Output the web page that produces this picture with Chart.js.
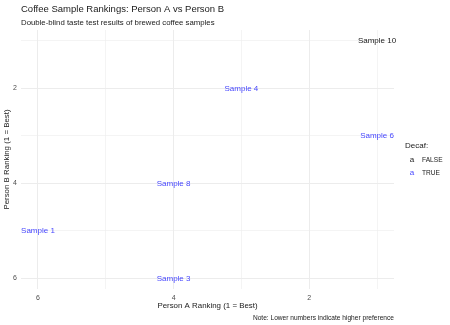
<!DOCTYPE html>
<html>
<head>
<meta charset="utf-8">
<script src="https://cdn.jsdelivr.net/npm/chart.js@4/dist/chart.umd.min.js"></script>
<style>
  html, body { margin: 0; padding: 0; background: #fff; }
  #wrap { width: 450px; height: 325px; position: relative; }
</style>
</head>
<body>
<div id="wrap"><canvas id="chart" width="450" height="325"></canvas></div>
<script>
// data
const samples = ['Sample 10', 'Sample 4', 'Sample 6', 'Sample 8', 'Sample 1', 'Sample 3'];
const personA = [1, 3, 1, 4, 6, 4];
const personB = [1, 2, 3, 4, 5, 6];
const decaf = [false, true, true, true, true, true];
const tickValues = [1, 2, 3, 4, 5, 6];
const tickLabels = ['', '2', '', '4', '', '6'];

const FONT = '"Liberation Sans", Arial, sans-serif';
const colFalse = '#1a1a1a';
const colTrue = 'rgba(0, 0, 255, 0.75)';

const points = samples.map((s, i) => ({ x: personA[i], y: personB[i], label: s, decaf: decaf[i] }));

function setTicks(scale) {
    scale.ticks = tickValues.map(v => ({ value: v }));
}

const gridOpts = {
    color: '#ececec',
    lineWidth: ctx => (ctx.tick && ctx.tick.value % 2 === 0) ? 1 : 0.6,
    drawTicks: false
};

// draws the sample names at the data positions + titles and legend
const textPlugin = {
    id: 'textPlugin',
    afterDatasetsDraw(chart) {
        const ctx = chart.ctx;
        const meta = chart.getDatasetMeta(0);
        ctx.save();
        ctx.font = '8px ' + FONT;
        ctx.textAlign = 'center';
        ctx.textBaseline = 'middle';
        meta.data.forEach((el, i) => {
            const p = points[i];
            ctx.fillStyle = p.decaf ? colTrue : colFalse;
            ctx.fillText(p.label, el.x, el.y);
        });
        ctx.restore();
    },
    afterDraw(chart) {
        const ctx = chart.ctx;
        const area = chart.chartArea;
        ctx.save();
        ctx.textBaseline = 'middle';

        // title + subtitle
        ctx.fillStyle = '#1a1a1a';
        ctx.textAlign = 'left';
        ctx.font = '9.5px ' + FONT;
        ctx.fillText('Coffee Sample Rankings: Person A vs Person B', 21, 9);
        ctx.font = '7.8px ' + FONT;
        ctx.fillText('Double-blind taste test results of brewed coffee samples', 21, 23);

        // axis titles
        ctx.font = '7.9px ' + FONT;
        ctx.textAlign = 'center';
        ctx.fillText('Person A Ranking (1 = Best)', (area.left + area.right) / 2, 306);
        ctx.save();
        ctx.translate(7, (area.top + area.bottom) / 2);
        ctx.rotate(-Math.PI / 2);
        ctx.fillText('Person B Ranking (1 = Best)', 0, 0);
        ctx.restore();

        // caption
        ctx.font = '6.6px ' + FONT;
        ctx.textAlign = 'right';
        ctx.fillText('Note: Lower numbers indicate higher preference', area.right, 318);

        // legend
        ctx.textAlign = 'left';
        ctx.font = '8px ' + FONT;
        ctx.fillText('Decaf:', 405, 146);
        ctx.font = '8px ' + FONT;
        ctx.textAlign = 'center';
        ctx.fillStyle = colFalse;
        ctx.fillText('a', 412, 160);
        ctx.fillStyle = colTrue;
        ctx.fillText('a', 412, 173);
        ctx.textAlign = 'left';
        ctx.fillStyle = '#1a1a1a';
        ctx.font = '6.6px ' + FONT;
        ctx.fillText('FALSE', 422, 160);
        ctx.fillText('TRUE', 422, 173);
        ctx.restore();
    }
};

new Chart(document.getElementById('chart'), {
    type: 'scatter',
    data: {
        datasets: [{
            data: points,
            pointRadius: 0,
            pointHoverRadius: 0
        }]
    },
    options: {
        responsive: false,
        animation: false,
        events: [],
        layout: { padding: { left: 0, right: 56, top: 30, bottom: 0 } },
        plugins: { legend: { display: false }, tooltip: { enabled: false } },
        scales: {
            x: {
                type: 'linear',
                reverse: true,
                min: 0.75,
                max: 6.25,
                border: { display: false },
                grid: gridOpts,
                afterBuildTicks: setTicks,
                afterFit(scale) { scale.height = 36; },
                ticks: {
                    padding: 5,
                    maxRotation: 0,
                    autoSkip: false,
                    color: '#4d4d4d',
                    font: { family: FONT, size: 7 },
                    callback: v => tickLabels[tickValues.indexOf(v)]
                }
            },
            y: {
                type: 'linear',
                reverse: true,
                min: 0.77,
                max: 6.225,
                border: { display: false },
                grid: gridOpts,
                afterBuildTicks: setTicks,
                afterFit(scale) { scale.width = 21; },
                ticks: {
                    padding: 4,
                    autoSkip: false,
                    color: '#4d4d4d',
                    font: { family: FONT, size: 7 },
                    callback: v => tickLabels[tickValues.indexOf(v)]
                }
            }
        }
    },
    plugins: [textPlugin]
});
</script>
</body>
</html>
